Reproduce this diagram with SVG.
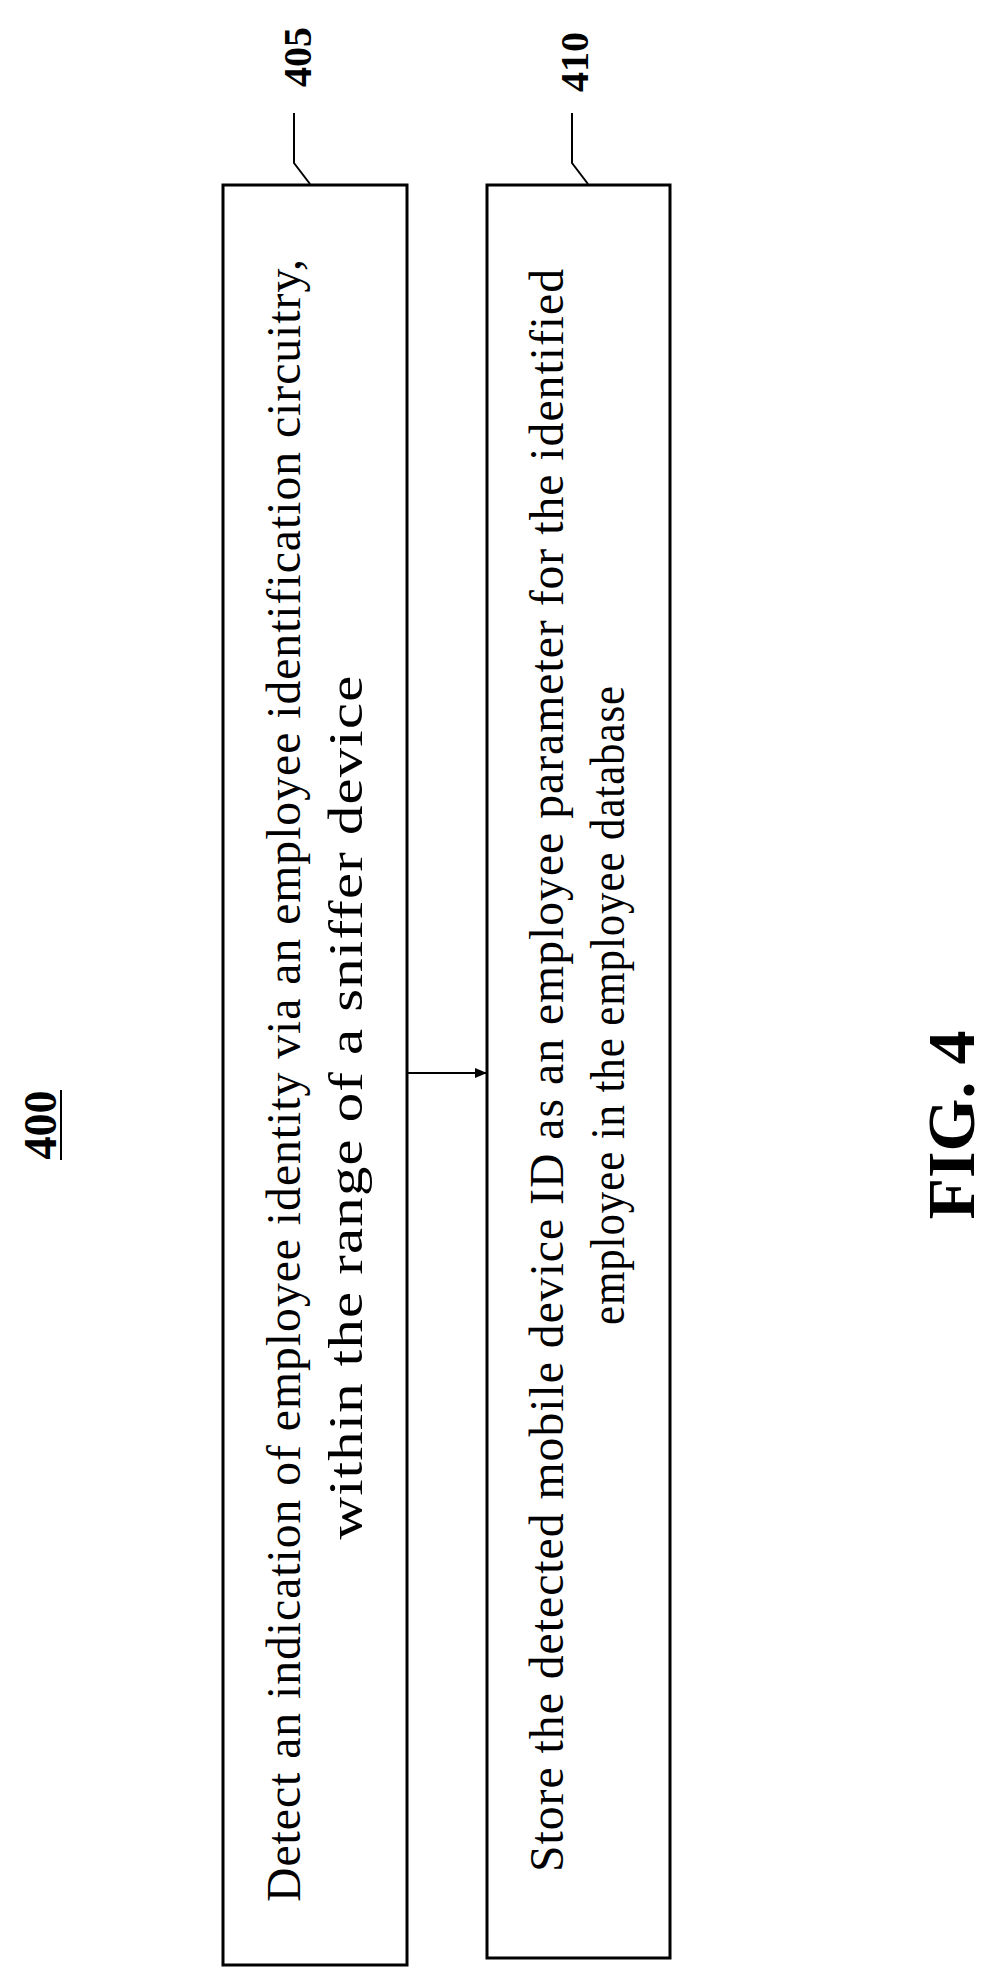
<svg xmlns="http://www.w3.org/2000/svg" width="993" height="1986" viewBox="0 0 993 1986">
<style>
.t{font-family:"Liberation Serif",serif;font-size:48px;fill:#000;letter-spacing:1px}
.b{font-family:"Liberation Serif",serif;font-weight:bold;fill:#000}
.box{fill:none;stroke:#000;stroke-width:3}
.ln{fill:none;stroke:#000;stroke-width:2}
</style>
<defs><marker id="ah" markerWidth="12" markerHeight="10" refX="12" refY="5" orient="auto" markerUnits="userSpaceOnUse"><path d="M0,0 L12,5 L0,10 Z" fill="#000"/></marker></defs>
<rect width="993" height="1986" fill="#fff"/>
<g id="title"><text class="b" font-size="46" text-anchor="middle" transform="translate(56,1125) rotate(-90)">400</text><line class="ln" x1="61" y1="1090" x2="61" y2="1160"/></g>
<g id="n405">
<rect class="box" x="223" y="185" width="184" height="1780"/>
<text class="t" text-anchor="middle" textLength="1644" lengthAdjust="spacingAndGlyphs" transform="translate(300,1080) rotate(-90)">Detect an indication of employee identity via an employee identification circuitry,</text>
<text class="t" text-anchor="middle" textLength="865" lengthAdjust="spacingAndGlyphs" transform="translate(362,1107) rotate(-90)">within the range of a sniffer device</text>
</g>
<g id="n410">
<rect class="box" x="487" y="185" width="183" height="1773"/>
<text class="t" text-anchor="middle" textLength="1604" lengthAdjust="spacingAndGlyphs" transform="translate(563,1070) rotate(-90)">Store the detected mobile device ID as an employee parameter for the identified</text>
<text class="t" text-anchor="middle" textLength="640" lengthAdjust="spacingAndGlyphs" transform="translate(624,1005) rotate(-90)">employee in the employee database</text>
</g>
<g id="labels">
<text class="b" font-size="40" text-anchor="middle" transform="translate(311,57) rotate(-90)">405</text>
<text class="b" font-size="40" text-anchor="middle" transform="translate(588,62) rotate(-90)">410</text>
<text class="b" font-size="68" text-anchor="middle" transform="translate(974,1125) rotate(-90)">FIG. 4</text>
</g>
<g id="connectors">
<path class="ln" d="M294,113 L294,163 L310,184"/>
<path class="ln" d="M572,113 L572,163 L588,184"/>
<line class="ln" x1="407" y1="1073" x2="487" y2="1073" marker-end="url(#ah)"/>
</g>
</svg>
